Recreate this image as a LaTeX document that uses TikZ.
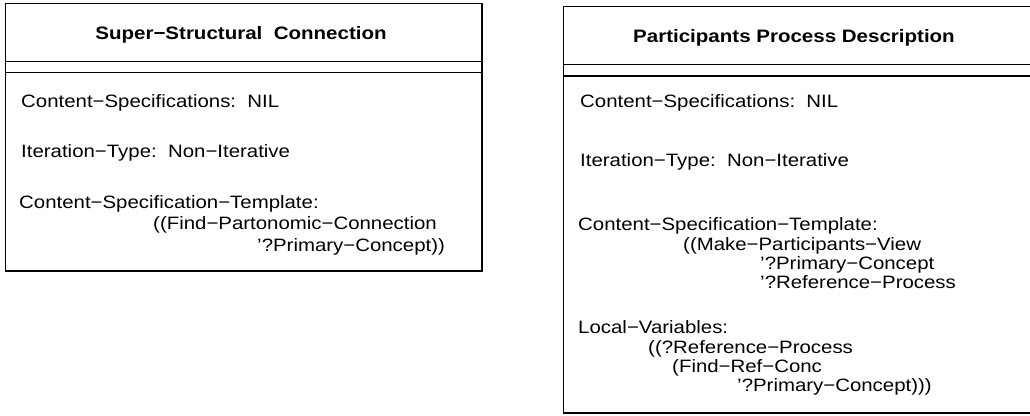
\documentclass[tikz,border=0pt]{standalone}
\usepackage{fontspec}
\setmainfont{Liberation Sans}
\begin{document}
\begin{tikzpicture}[x=1pt,y=-1pt,
  frame/.style={line width=1.6pt, line cap=rect},
  divider/.style={line width=1.3pt},
  body/.style={anchor=base west, inner sep=0pt, xscale=1.14, font=\fontsize{17.9}{21}\selectfont},
  title/.style={anchor=base, inner sep=0pt, xscale=1.14, font=\fontsize{18}{21}\selectfont\bfseries}]
\useasboundingbox (0,0) rectangle (1030,415);
% left box
\draw[frame] (5.5,3.5) rectangle (482,271);
\draw[divider] (5.5,61.5) -- (482,61.5);
\draw[divider] (5.5,72.5) -- (482,72.5);
\node[title] (lt) at (241,39) {Super−Structural\ \ Connection};
\node[body] (l1) at (21,107) {Content−Specifications:\ \ NIL};
\node[body] (l2) at (21,157) {Iteration−Type:\ \ Non−Iterative};
\node[body] (l3) at (19,208) {Content−Specification−Template:};
\node[body] (l4) at (153,229.5) {((Find−Partonomic−Connection};
\node[body] (l5) at (257,251) {'?Primary−Concept))};
% right box (right side cut off by the picture edge)
\draw[frame] (1031,6.5) -- (563.5,6.5) -- (563.5,413) -- (1031,413);
\draw[divider] (563.5,64.5) -- (1031,64.5);
\draw[divider] (563.5,76) -- (1031,76);
\node[title] (rt) at (794,42) {Participants Process Description};
\node[body] (r1) at (580,107) {Content−Specifications:\ \ NIL};
\node[body] (r2) at (580,166) {Iteration−Type:\ \ Non−Iterative};
\node[body] (r3) at (578,230) {Content−Specification−Template:};
\node[body] (r4) at (683,250) {((Make−Participants−View};
\node[body] (r5) at (760,269) {'?Primary−Concept};
\node[body] (r6) at (760,288) {'?Reference−Process};
\node[body] (r7) at (578,333) {Local−Variables:};
\node[body] (r8) at (648,353) {((?Reference−Process};
\node[body] (r9) at (672,372) {(Find−Ref−Conc};
\node[body] (r10) at (737,391) {'?Primary−Concept)))};
\end{tikzpicture}
\end{document}
